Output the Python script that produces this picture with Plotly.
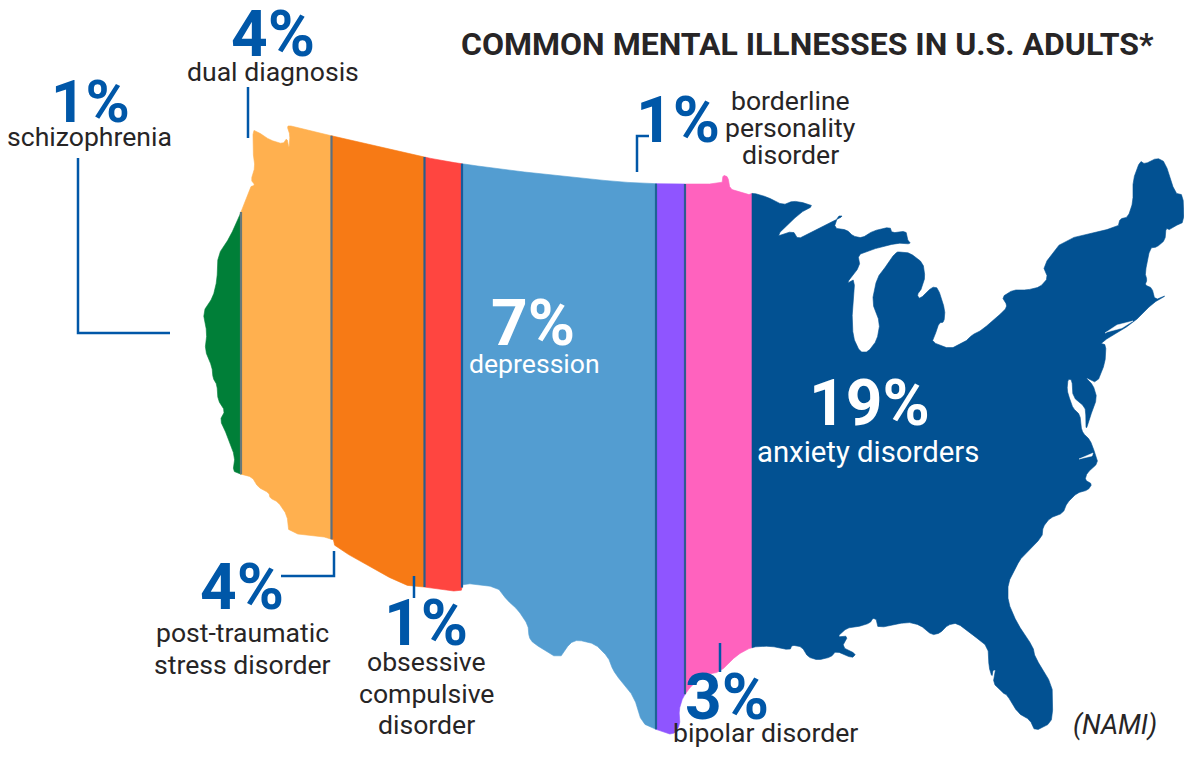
import plotly.graph_objects as go

# ---- data ----
disorders = [["schizophrenia"], ["dual diagnosis"], ["post-traumatic", "stress disorder"],
             ["obsessive", "compulsive", "disorder"], ["depression"],
             ["borderline", "personality", "disorder"], ["bipolar disorder"], ["anxiety disorders"]]
percents = [1, 4, 4, 1, 7, 1, 3, 19]
band_edges = [190, 241, 331.5, 424.5, 462, 656, 685, 752, 1190]
band_colors = ["#007f38", "#ffb04f", "#f77a15", "#ff4540", "#539dd1", "#8f55ff", "#ff62be", "#025192"]
edge_colors = ["#66787a", "#5c6f80", "#2a5c8c", "#1a5a9a", "#1e6296", "#2e5a90", "#7f86a8"]

outline = [
 (253,130),(258,132),(270,140),(283,144),(287,138),(289,149),(290,135),(287,126),(292,126),
 (332,136),(423,157),(462,164),(540,174),(620,182),(660,184),(722,184),(723,175),(728,177),(730,189),
 (740,192),(748,195),(753,193),(767,197),(783,205),(793,201),(805,203),(813,206),(800,213),(775,237),
 (793,231),(798,239),(810,233),(833,222),(843,216),(838,216),(834,228),(847,230),(853,236),(862,238),
 (873,231),(890,227),(892,233),(906,231),(907,239),(911,244),(897,243),(870,250),(858,255),(860,266),
 (846,284),(855,279),(852,310),(853,337),(860,352),(868,352),(877,340),(880,323),(872,302),(877,278),
 (887,265),(892,257),(897,252),(900,252),(910,253),(923,263),(925,277),(922,288),(917,295),(920,299),
 (932,287),(938,288),(945,310),(944,322),(939,323),(935,335),(932,342),(950,349),(965,342),(972,335),
 (982,330),(1005,310),(1007,305),(1002,297),(1013,290),(1027,290),(1040,287),(1048,278),(1043,266),
 (1063,240),(1118,227),(1120,219),(1128,217),(1133,202),(1133,180),(1140,161),(1145,164),(1157,158),
 (1165,162),(1175,193),(1183,195),(1184,222),(1175,226),(1170,230),(1166,228),(1165,240),(1157,247),
 (1150,248),(1145,273),(1147,280),(1145,285),(1152,288),(1155,300),(1167,295),(1153,303),(1133,323),
 (1100,343),(1106,345),(1105,363),(1097,383),(1085,377),(1093,385),(1097,398),(1090,417),(1086,430),
 (1086,417),(1085,407),(1073,397),(1072,380),(1068,379),(1067,390),(1070,400),(1073,408),(1080,415),
 (1081,427),(1083,433),(1090,440),(1095,453),(1098,463),(1087,473),(1085,480),(1092,484),(1088,490),
 (1077,493),(1067,503),(1063,513),(1050,518),(1043,527),(1042,537),(1022,557),(1017,565),(1008,583),
 (1008,602),(1017,623),(1033,647),(1035,657),(1052,685),(1053,707),(1051,723),(1035,731),(1030,720),
 (1018,713),(1007,695),(1003,693),(993,683),(996,670),(993,670),(992,677),(989,667),(988,647),(973,635),
 (957,623),(948,625),(940,633),(932,635),(920,625),(907,622),(878,628),(877,620),(873,618),(870,623),
 (857,627),(847,628),(837,637),(848,636),(842,647),(856,654),(852,658),(836,651),(831,657),(818,660),
 (808,657),(802,647),(792,645),(790,650),(770,646),(752,647),(737,655),(720,672),(703,675),(692,685),
 (683,697),(679,710),(680,725),(673,735),(657,730),(642,723),(634,697),(620,680),(613,670),(608,657),
 (595,644),(578,640),(570,643),(559,659),(533,643),(529,637),(528,625),(518,610),(507,600),(497,587),
 (463,583),(461,592),(425,587),(403,585),(335,547),(333,538),(289,533),(287,515),(278,502),(270,498),
 (269,493),(258,487),(252,477),(240,474),(233,471),(235,457),(227,435),(220,420),(225,411),(218,400),
 (217,385),(213,378),(212,367),(205,350),(207,333),(203,312),(213,297),(217,280),(218,255),(230,237),
 (242,210),(250,187),(255,185),(251,180),(255,167),(253,152),
]

# white water inside the land
sound = [(1105,333),(1117,325),(1133,321),(1122,328),(1107,332)]
pamlico = [(1079,459),(1093,453),(1092,456),(1081,459)]


def soften(points, ratio=0.2):
    """Round the traced corners so the coast does not look faceted."""
    out = []
    n = len(points)
    for i in range(n):
        a, b = points[i], points[(i + 1) % n]
        out.append((a[0] + ratio * (b[0] - a[0]), a[1] + ratio * (b[1] - a[1])))
        out.append((b[0] - ratio * (b[0] - a[0]), b[1] - ratio * (b[1] - a[1])))
    return out


def clip(points, x0, keep_right):
    out = []
    n = len(points)
    for i in range(n):
        a, b = points[i], points[(i + 1) % n]
        ina = (a[0] >= x0) if keep_right else (a[0] <= x0)
        inb = (b[0] >= x0) if keep_right else (b[0] <= x0)
        if ina:
            out.append(a)
        if ina != inb:
            t = (x0 - a[0]) / (b[0] - a[0])
            out.append((x0, a[1] + t * (b[1] - a[1])))
    return out


def crossings(points, x0):
    ys = []
    n = len(points)
    for i in range(n):
        a, b = points[i], points[(i + 1) % n]
        if (a[0] - x0) * (b[0] - x0) < 0:
            ys.append(a[1] + (x0 - a[0]) / (b[0] - a[0]) * (b[1] - a[1]))
    return min(ys), max(ys)


coast = soften(outline)
fig = go.Figure()
for i, col in enumerate(band_colors):
    poly = clip(clip(coast, band_edges[i], True), band_edges[i + 1], False)
    fig.add_trace(go.Scatter(x=[p[0] for p in poly] + [poly[0][0]], y=[p[1] for p in poly] + [poly[0][1]],
                             mode="lines", fill="toself", fillcolor=col, line=dict(width=0.6, color=col),
                             hoverinfo="skip"))
for hole in (sound, pamlico):
    fig.add_trace(go.Scatter(x=[p[0] for p in hole] + [hole[0][0]], y=[p[1] for p in hole] + [hole[0][1]],
                             mode="lines", fill="toself", fillcolor="white", line=dict(width=0.5, color="white"),
                             hoverinfo="skip"))
for x0, col in zip(band_edges[1:-1], edge_colors):
    y0, y1 = crossings(coast, x0)
    fig.add_trace(go.Scatter(x=[x0, x0], y=[y0, y1], mode="lines", line=dict(width=2.2, color=col), hoverinfo="skip"))

BLUE = "#0057a8"
INK = "#272526"
leaders = [
    ([78, 78, 170], [158, 333, 333]),
    ([248, 248], [87, 138]),
    ([281, 334, 334], [576, 576, 551]),
    ([414, 414], [576, 598]),
    ([637, 637, 649], [172, 136, 136]),
    ([720, 720], [643, 672]),
]
for lx, ly in leaders:
    fig.add_trace(go.Scatter(x=lx, y=ly, mode="lines", line=dict(width=2.5, color=BLUE), hoverinfo="skip"))


def note(x, y, text, size, color, bold=False):
    fig.add_annotation(x=x, y=y, text=f"<b>{text}</b>" if bold else text, showarrow=False,
                       font=dict(family="Roboto", size=size, color=color), xanchor="center", yanchor="middle")


pct_pos = [(90, 101), (273, 34), (242, 587), (426, 623), (533, 323), (678, 120), (727, 697), (869, 403)]
pct_size = [60, 64, 64, 64, 64, 64, 64, 64]
lab_x = [89, 272.5, 242, 426, 534, 790, 765, 868]
lab_y = [[136], [71], [632, 664], [661, 693, 724], [363], [100, 127, 154], [732], [452]]
lab_size = [26.6, 26.6, 26.6, 26.6, 26.6, 26.6, 26.6, 29.3]
pct_col = [BLUE, BLUE, BLUE, BLUE, "white", BLUE, BLUE, "white"]
lab_col = [INK, INK, INK, INK, "white", INK, INK, "white"]
for lines, p, pp, ps, lx, ly, ls, pc, lc in zip(disorders, percents, pct_pos, pct_size, lab_x, lab_y, lab_size, pct_col, lab_col):
    note(pp[0], pp[1], f"{p}%", ps, pc, bold=True)
    for t, y in zip(lines, ly):
        note(lx, y, t, ls, lc)

note(807, 43.5, "COMMON MENTAL ILLNESSES IN U.S. ADULTS*", 32, INK, bold=True)
note(1114.5, 725, "<i>(NAMI)</i>", 27, INK)

fig.update_layout(width=1184, height=759, margin=dict(l=0, r=0, t=0, b=0), showlegend=False,
                  paper_bgcolor="white", plot_bgcolor="white",
                  xaxis=dict(range=[0, 1184], visible=False, fixedrange=True),
                  yaxis=dict(range=[759, 0], visible=False, fixedrange=True))
fig.write_html("out.html", config=dict(displayModeBar=False),
               post_script="document.body.style.margin='0';document.body.style.overflow='hidden';")
